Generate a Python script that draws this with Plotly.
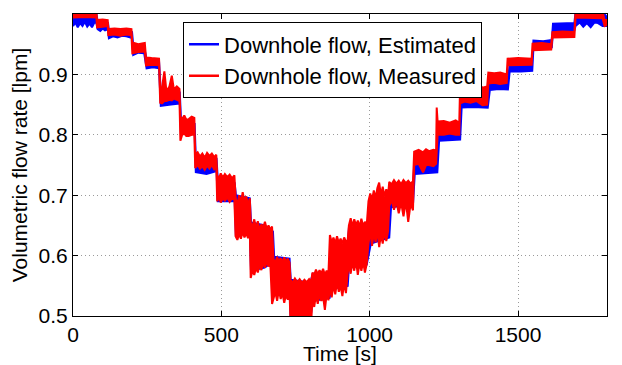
import plotly.graph_objects as go

# ---- Measured downhole flow (red): time [s], upper / lower edge of the noisy trace [lpm]
t_meas = [0, 40, 79,
          81, 100, 117,
          119, 140, 160, 180, 197,
          200, 220, 242,
          246, 265, 290,
          294, 300, 308, 315, 325, 333, 340, 350, 359,
          362, 368, 375, 382, 390, 400, 409,
          412, 420, 428, 436, 444, 452, 460, 468, 476, 483,
          486, 492, 498, 505, 512, 520, 528, 536, 544,
          548, 554, 560, 566, 572, 578, 584, 590, 596,
          599, 605, 611, 617, 623, 629, 635, 641, 647, 653, 659, 665, 671,
          676, 682, 688, 694, 700, 706, 712, 718, 724, 730,
          733, 740, 748, 756, 764, 772, 780, 788, 796, 803,
          807, 813, 819, 825, 831, 837, 843, 849, 855, 861,
          866, 872, 878, 884, 890, 896, 902, 908, 914, 920,
          926, 930, 936, 942, 948, 954, 960, 966, 972, 978, 984, 990,
          996, 1002, 1008, 1014, 1020, 1026, 1032, 1038, 1044, 1050, 1056, 1062,
          1066, 1074, 1082, 1090, 1098, 1106, 1114, 1122, 1130, 1138, 1146,
          1150, 1165, 1180, 1190, 1200, 1215, 1224,
          1226, 1229, 1250, 1270, 1290, 1302,
          1305, 1320, 1340, 1360, 1380, 1396,
          1400, 1420, 1440, 1462,
          1465, 1500, 1546,
          1549, 1580, 1612,
          1616, 1650, 1690,
          1694, 1740, 1785,
          1792, 1800]
meas_hi = [1.004, 1.004, 1.004,
           0.990, 0.991, 0.990,
           0.975, 0.976, 0.975, 0.976, 0.975,
           0.953, 0.950, 0.952,
           0.928, 0.927, 0.926,
           0.875, 0.878, 0.905, 0.872, 0.880, 0.898, 0.875, 0.880, 0.876,
           0.830, 0.826, 0.832, 0.825, 0.826, 0.830, 0.828,
           0.768, 0.771, 0.764, 0.769, 0.762, 0.770, 0.765, 0.769, 0.763, 0.767,
           0.733, 0.728, 0.736, 0.729, 0.735, 0.730, 0.734, 0.728, 0.733,
           0.697, 0.682, 0.700, 0.688, 0.705, 0.690, 0.698, 0.684, 0.695,
           0.655, 0.648, 0.660, 0.645, 0.657, 0.642, 0.652, 0.646, 0.656, 0.644, 0.650, 0.643, 0.648,
           0.594, 0.588, 0.598, 0.590, 0.596, 0.589, 0.597, 0.590, 0.595, 0.588,
           0.560, 0.555, 0.562, 0.556, 0.561, 0.555, 0.560, 0.556, 0.561, 0.557,
           0.572, 0.568, 0.577, 0.569, 0.576, 0.570, 0.578, 0.568, 0.575, 0.570,
           0.634, 0.622, 0.630, 0.620, 0.632, 0.621, 0.628, 0.620, 0.630, 0.623,
           0.626, 0.650, 0.662, 0.648, 0.660, 0.650, 0.658, 0.647, 0.661, 0.649, 0.656, 0.650,
           0.690, 0.703, 0.692, 0.708, 0.695, 0.712, 0.721, 0.700, 0.714, 0.698, 0.710, 0.700,
           0.722, 0.718, 0.725, 0.719, 0.724, 0.718, 0.725, 0.720, 0.724, 0.719, 0.723,
           0.772, 0.775, 0.771, 0.776, 0.773, 0.775, 0.774,
           0.845, 0.822, 0.823, 0.820, 0.824, 0.820,
           0.885, 0.890, 0.885, 0.888, 0.878, 0.880,
           0.903, 0.902, 0.903, 0.900,
           0.926, 0.927, 0.926,
           0.951, 0.952, 0.950,
           0.970, 0.971, 0.970,
           1.004, 1.004, 1.003,
           0.990, 0.990]
meas_lo = [0.994, 0.995, 0.994,
           0.978, 0.979, 0.980,
           0.965, 0.966, 0.964, 0.966, 0.965,
           0.935, 0.937, 0.938,
           0.915, 0.916, 0.915,
           0.853, 0.852, 0.856, 0.856, 0.858, 0.857, 0.860, 0.858, 0.856,
           0.790, 0.800, 0.802, 0.798, 0.798, 0.800, 0.800,
           0.745, 0.750, 0.744, 0.748, 0.742, 0.749, 0.744, 0.750, 0.743, 0.747,
           0.690, 0.697, 0.688, 0.695, 0.691, 0.696, 0.689, 0.695, 0.692,
           0.632, 0.626, 0.636, 0.628, 0.640, 0.630, 0.637, 0.629, 0.640,
           0.563, 0.575, 0.568, 0.580, 0.572, 0.585, 0.576, 0.588, 0.580, 0.590, 0.582, 0.588, 0.520,
           0.530, 0.540, 0.525, 0.543, 0.528, 0.538, 0.522, 0.535, 0.527, 0.540,
           0.490, 0.490, 0.490, 0.490, 0.490, 0.490, 0.490, 0.490, 0.490, 0.490,
           0.530, 0.515, 0.535, 0.520, 0.537, 0.525, 0.532, 0.510, 0.536, 0.526,
           0.545, 0.531, 0.552, 0.536, 0.556, 0.540, 0.550, 0.533, 0.554, 0.538,
           0.571, 0.585, 0.570, 0.590, 0.575, 0.592, 0.568, 0.588, 0.575, 0.590, 0.572, 0.586,
           0.620, 0.640, 0.616, 0.638, 0.622, 0.642, 0.614, 0.635, 0.620, 0.640, 0.624, 0.640,
           0.682, 0.692, 0.676, 0.690, 0.670, 0.688, 0.665, 0.690, 0.656, 0.686, 0.675,
           0.750, 0.752, 0.738, 0.750, 0.750, 0.748, 0.752,
           0.752, 0.800, 0.800, 0.802, 0.800, 0.800,
           0.852, 0.855, 0.853, 0.856, 0.849, 0.850,
           0.885, 0.886, 0.884, 0.886,
           0.915, 0.915, 0.916,
           0.940, 0.940, 0.941,
           0.961, 0.961, 0.962,
           0.994, 0.994, 0.993,
           0.980, 0.982]

# ---- Estimated downhole flow (blue)
t_est = [0, 8, 16, 24, 32, 40, 48, 56, 64, 72, 79,
         83, 92, 100, 108, 118,
         121, 135, 150, 165, 180, 199,
         203, 220, 240,
         248, 270, 290,
         296, 330, 360,
         364, 390, 410,
         414, 450, 484,
         488, 545, 549, 596, 600, 646, 674, 678, 730, 734, 800,
         808, 865, 870, 926, 930, 990, 1004, 1066, 1072, 1146,
         1152, 1190, 1228,
         1234, 1270, 1305,
         1310, 1350, 1398,
         1405, 1435, 1466,
         1472, 1510, 1548,
         1552, 1585, 1614,
         1618, 1655, 1690,
         1694, 1708, 1720, 1732, 1745, 1758, 1770, 1785, 1800]
est_hi = [1.003, 0.998, 1.002, 0.996, 1.000, 0.997, 1.002, 0.998, 1.001, 0.997, 1.000,
          0.988, 0.985, 0.984, 0.987, 0.985,
          0.972, 0.970, 0.971, 0.969, 0.972, 0.970,
          0.948, 0.944, 0.945,
          0.925, 0.923, 0.922,
          0.870, 0.868, 0.870,
          0.825, 0.820, 0.818,
          0.760, 0.758, 0.760,
          0.725, 0.720, 0.700, 0.695, 0.655, 0.650, 0.640, 0.598, 0.595, 0.560, 0.555,
          0.570, 0.570, 0.620, 0.615, 0.645, 0.640, 0.690, 0.695, 0.715, 0.715,
          0.765, 0.763, 0.768,
          0.810, 0.808, 0.812,
          0.865, 0.862, 0.862,
          0.890, 0.888, 0.888,
          0.918, 0.917, 0.920,
          0.956, 0.955, 0.957,
          0.984, 0.985, 0.985,
          1.003, 0.998, 1.000, 0.997, 1.003, 0.998, 1.000, 1.003, 0.995]
est_lo = [0.980, 0.986, 0.978, 0.985, 0.980, 0.987, 0.979, 0.984, 0.978, 0.986, 0.985,
          0.975, 0.972, 0.976, 0.973, 0.975,
          0.960, 0.963, 0.961, 0.964, 0.963, 0.960,
          0.932, 0.936, 0.935,
          0.910, 0.912, 0.910,
          0.848, 0.850, 0.852,
          0.800, 0.806, 0.805,
          0.738, 0.735, 0.740,
          0.690, 0.690, 0.635, 0.640, 0.575, 0.580, 0.590, 0.535, 0.540, 0.495, 0.495,
          0.525, 0.530, 0.545, 0.550, 0.580, 0.585, 0.620, 0.630, 0.680, 0.685,
          0.735, 0.737, 0.738,
          0.790, 0.791, 0.792,
          0.845, 0.846, 0.845,
          0.874, 0.876, 0.875,
          0.905, 0.905, 0.906,
          0.944, 0.946, 0.945,
          0.972, 0.973, 0.973,
          0.980, 0.986, 0.979, 0.985, 0.978, 0.986, 0.985, 0.980, 0.980]

x_ticks = [0, 500, 1000, 1500]
y_ticks = [0.5, 0.6, 0.7, 0.8, 0.9, 1.0]
y_tick_labels = ["0.5", "0.6", "0.7", "0.8", "0.9", "1"]

assert len(t_meas) == len(meas_hi) == len(meas_lo)
assert len(t_est) == len(est_hi) == len(est_lo)

series = [("Downhole flow, Estimated", t_est, est_hi, est_lo, "#0000ff"),
          ("Downhole flow, Measured", t_meas, meas_hi, meas_lo, "#ff0000")]

FONT = "Liberation Sans, Arial, Helvetica, sans-serif"
fig = go.Figure()
for name, t, hi, lo, col in series:
    fig.add_trace(go.Scatter(
        x=list(t) + list(t)[::-1], y=list(hi) + list(lo)[::-1],
        mode="lines", fill="toself", fillcolor=col,
        line=dict(color=col, width=2), showlegend=False, hoverinfo="skip"))
for name, t, hi, lo, col in series:
    fig.add_trace(go.Scatter(x=[None], y=[None], mode="lines", name=name,
                             line=dict(color=col, width=2.5)))

axis_common = dict(showline=True, linecolor="black", linewidth=1, mirror="ticks",
                   ticks="inside", ticklen=5, tickcolor="black", automargin=False,
                   showgrid=True, gridcolor="#9a9a9a", griddash="1px,3px", gridwidth=1,
                   zeroline=False, tickfont=dict(family=FONT, size=21, color="black"))
fig.update_xaxes(range=[0, 1800], tickvals=x_ticks,
                 title=dict(text="Time [s]", font=dict(family=FONT, size=21, color="black"),
                            standoff=5),
                 **axis_common)
fig.update_yaxes(range=[0.5, 1.0], tickvals=y_ticks, ticktext=y_tick_labels,
                 title=dict(text="Volumetric flow rate [lpm]",
                            font=dict(family=FONT, size=21, color="black"), standoff=6),
                 **axis_common)
# the page body has an 8 px default margin, so the figure is sized/offset to land
# its plot area at the same place as in the reference window
fig.update_layout(
    width=614, height=357,
    margin=dict(l=65, r=15, t=6, b=49),
    paper_bgcolor="white", plot_bgcolor="white",
    font=dict(family=FONT, color="black"),
    legend=dict(x=0.206, y=0.972, xanchor="left", yanchor="top",
                bgcolor="white", bordercolor="black", borderwidth=1,
                font=dict(family=FONT, size=22, color="black"),
                itemwidth=30, tracegroupgap=0),
)
fig.write_html("out.html")
